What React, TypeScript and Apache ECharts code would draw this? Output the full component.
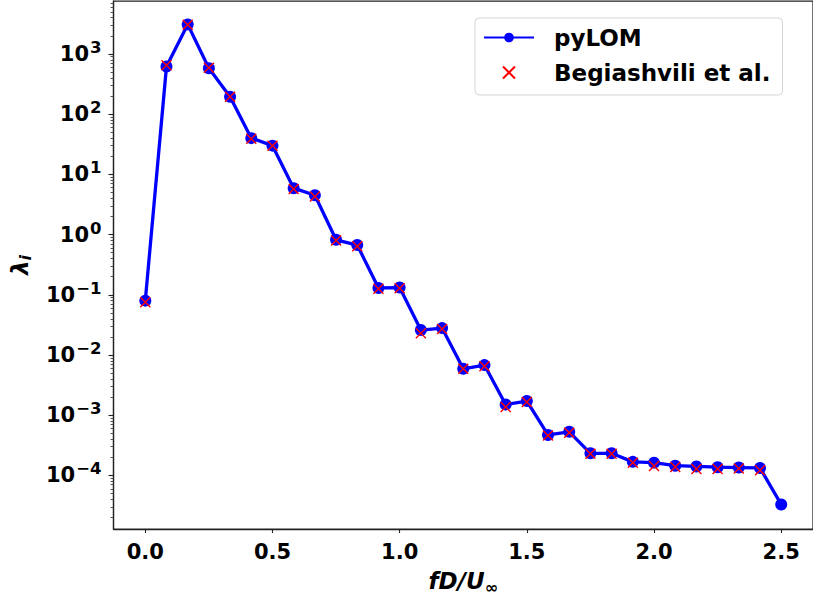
import React, { useEffect, useRef } from "react";
import * as echarts from "echarts";

// Non-dimensional frequency fD/U∞ of each mode
const freq = [
  0, 0.0833, 0.1667, 0.25, 0.3333, 0.4167, 0.5, 0.5833, 0.6667, 0.75, 0.8333,
  0.9167, 1.0, 1.0833, 1.1667, 1.25, 1.3333, 1.4167, 1.5, 1.5833, 1.6667, 1.75,
  1.8333, 1.9167, 2.0, 2.0833, 2.1667, 2.25, 2.3333, 2.4167, 2.5,
];

// Mode energies λ_i computed with pyLOM
const pylomLambda = [
  0.08, 620, 3100, 580, 195, 40, 30, 5.9, 4.5, 0.82, 0.67, 0.13, 0.132, 0.026,
  0.028, 0.0059, 0.0068, 0.00151, 0.00172, 0.00047, 0.00053, 0.000233,
  0.000233, 0.000168, 0.000163, 0.000145, 0.000141, 0.000137, 0.000135,
  0.000133, 0.0000329,
];

// Reference energies from Begiashvili et al.
const begiashviliLambda = [
  0.075, 650, 3050, 590, 195, 39, 30, 5.7, 4.3, 0.8, 0.64, 0.126, 0.128, 0.023,
  0.027, 0.0059, 0.0065, 0.00137, 0.00165, 0.00046, 0.00051, 0.00023, 0.00023,
  0.000162, 0.000143, 0.000138, 0.000128, 0.000128, 0.00013, 0.000122,
];

// Axis ticks (y ticks are decades, exponents of ten)
const xTicks = [0, 0.5, 1.0, 1.5, 2.0, 2.5];
const yDecades = [-4, -3, -2, -1, 0, 1, 2, 3];

const FONT = "DejaVu Sans";
const Y_MIN = -4.89;
const Y_MAX = 3.88;

const log10 = (v: number) => Math.log10(v);

export default function App() {
  const ref = useRef<HTMLDivElement>(null);

  useEffect(() => {
    if (!ref.current) return;
    const chart = echarts.init(ref.current, undefined, { renderer: "svg" });

    // minor ticks at 2..9 × 10^k on the log scale
    const minorTicks: number[] = [];
    for (let e = -5; e <= 3; e++) {
      for (let m = 2; m <= 9; m++) {
        const v = Math.log10(m) + e;
        if (v > Y_MIN && v < Y_MAX) minorTicks.push(v);
      }
    }

    const supText = (e: number) => (e < 0 ? "\u2212" + String(-e) : String(e));

    chart.setOption({
      animation: false,
      backgroundColor: "#ffffff",
      grid: {
        left: 113,
        top: 1,
        width: 706,
        height: 532,
        show: true,
        borderColor: "#222",
        borderWidth: 1.25,
        backgroundColor: "transparent",
      },
      legend: {
        orient: "vertical",
        left: 475,
        top: 18,
        padding: [8, 12, 11, 8],
        itemGap: 12,
        itemWidth: 50,
        itemHeight: 12,
        backgroundColor: "#ffffff",
        borderColor: "#d6d6d6",
        borderWidth: 1,
        borderRadius: 4,
        textStyle: {
          fontFamily: FONT,
          fontWeight: "bold",
          fontSize: 23,
          color: "#000",
          lineHeight: 23,
          padding: [0, 0, 0, 15],
        },
        data: ["pyLOM", "Begiashvili et al."],
      },
      xAxis: {
        type: "value",
        min: -0.125,
        max: 2.625,
        name: "{it|fD/U}{sub|\u221E}",
        nameLocation: "middle",
        nameGap: 38,
        nameTextStyle: {
          rich: {
            it: {
              fontFamily: FONT,
              fontWeight: "bold",
              fontStyle: "italic",
              fontSize: 23,
              color: "#000",
              lineHeight: 28,
            },
            sub: {
              fontFamily: FONT,
              fontWeight: "bold",
              fontStyle: "italic",
              fontSize: 16,
              color: "#000",
              lineHeight: 16,
              verticalAlign: "bottom",
            },
          },
        },
        axisLine: {
          show: true,
          onZero: false,
          lineStyle: { color: "#222", width: 1.25 },
        },
        axisTick: {
          show: true,
          inside: false,
          length: 4,
          lineStyle: { color: "#222", width: 1.1 },
          customValues: xTicks,
        },
        axisLabel: {
          customValues: xTicks,
          formatter: (v: number) => v.toFixed(1),
          fontFamily: FONT,
          fontWeight: "bold",
          fontSize: 21,
          color: "#000",
          margin: 12,
        },
        splitLine: { show: false },
      },
      yAxis: [
        {
          type: "value",
          min: Y_MIN,
          max: Y_MAX,
          name: "{l|\u03BB}{s|i}",
          nameLocation: "middle",
          nameGap: 80,
          nameTextStyle: {
            rich: {
              l: {
                fontFamily: FONT,
                fontWeight: "bold",
                fontStyle: "italic",
                fontSize: 23,
                color: "#000",
                lineHeight: 28,
              },
              s: {
                fontFamily: FONT,
                fontWeight: "bold",
                fontStyle: "italic",
                fontSize: 16,
                color: "#000",
                lineHeight: 16,
                verticalAlign: "bottom",
              },
            },
          },
          axisLine: {
            show: true,
            onZero: false,
            lineStyle: { color: "#222", width: 1.25 },
          },
          axisTick: {
            show: true,
            inside: false,
            length: 5,
            lineStyle: { color: "#222", width: 1.1 },
            customValues: yDecades,
          },
          axisLabel: {
            customValues: yDecades,
            formatter: (v: number) => `{b|10}{s|${supText(Math.round(v))}}`,
            margin: 12,
            rich: {
              b: {
                fontFamily: FONT,
                fontWeight: "bold",
                fontSize: 21,
                color: "#000",
                lineHeight: 30,
              },
              s: {
                fontFamily: FONT,
                fontWeight: "bold",
                fontSize: 16.5,
                color: "#000",
                lineHeight: 16,
                verticalAlign: "top",
                padding: [0, 0, 0, 1],
              },
            },
          },
          splitLine: { show: false },
        },
        {
          type: "value",
          min: Y_MIN,
          max: Y_MAX,
          position: "left",
          axisLine: { show: false, onZero: false },
          axisTick: {
            show: true,
            inside: false,
            length: 3,
            lineStyle: { color: "#444", width: 0.9 },
            customValues: minorTicks,
          },
          axisLabel: { show: false },
          splitLine: { show: false },
        },
      ],
      series: [
        {
          name: "pyLOM",
          type: "line",
          yAxisIndex: 0,
          data: freq.map((f, i) => [f, log10(pylomLambda[i])]),
          symbol: "circle",
          symbolSize: 12,
          lineStyle: { color: "#0000ff", width: 3.3 },
          itemStyle: { color: "#0000ff" },
          z: 2,
        },
        {
          name: "Begiashvili et al.",
          type: "scatter",
          yAxisIndex: 0,
          data: begiashviliLambda.map((v, i) => [freq[i], log10(v)]),
          symbol: "path://M0,0L10,10M10,0L0,10",
          symbolSize: 10,
          itemStyle: {
            color: "none",
            borderColor: "#ff0000",
            borderWidth: 1.4,
            opacity: 1,
          },
          z: 3,
        },
      ],
    });

    return () => chart.dispose();
  }, []);

  return (
    <div
      ref={ref}
      style={{ position: "fixed", left: 0, top: 0, width: 813, height: 600 }}
    />
  );
}
